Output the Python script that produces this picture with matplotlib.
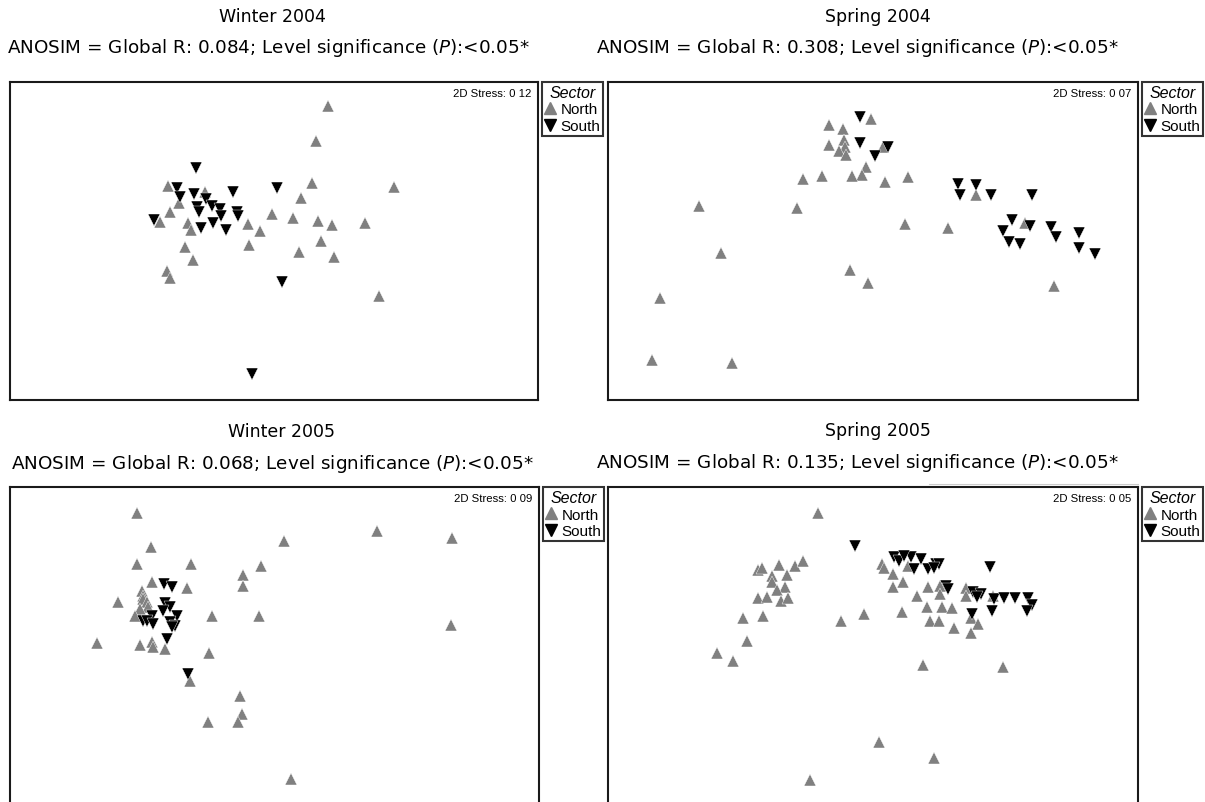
import matplotlib
matplotlib.use("Agg")
import matplotlib.pyplot as plt
from matplotlib.lines import Line2D

# ---- data (nMDS ordination scores, arbitrary units) ----
panel_titles = ["Winter 2004", "Spring 2004", "Winter 2005", "Spring 2005"]
global_r = ["0.084", "0.308", "0.068", "0.135"]
stress = ["0 12", "0 07", "0 09", "0 05"]
sectors = ["North", "South"]

w04_north_x = [318, 306, 302, 384, 291, 158, 169, 160, 150, 178, 181, 195, 238, 250, 262, 283,
               308, 322, 355, 311, 289, 324, 239, 175, 183, 157, 160, 369]
w04_north_y = [294, 259, 217, 213, 202, 214, 197, 188, 178, 177, 170, 208, 176, 169, 186, 182,
               179, 175, 177, 159, 148, 143, 155, 153, 140, 129, 122, 104]
w04_south_x = [186, 167, 170, 184, 196, 223, 267, 187, 189, 202, 210, 211, 227, 228, 144, 191,
               203, 216, 272, 242]
w04_south_y = [232, 212, 203, 206, 201, 208, 212, 193, 188, 194, 191, 184, 188, 184, 180, 172,
               177, 170, 118, 26]

s04_north_x = [220, 234, 262, 220, 235, 236, 230, 237, 257, 253, 243, 274, 276, 299, 194, 213,
               188, 91, 296, 113, 241, 259, 52, 44, 124, 339, 367, 415, 444]
s04_north_y = [275, 271, 281, 255, 260, 253, 249, 245, 233, 225, 224, 253, 218, 223, 221, 224,
               192, 194, 176, 147, 130, 117, 102, 40, 37, 172, 205, 177, 114]
s04_south_x = [251, 251, 266, 279, 349, 351, 367, 382, 422, 402, 394, 399, 410, 420, 441, 446,
               469, 469, 485]
s04_south_y = [283, 257, 244, 253, 216, 205, 215, 205, 205, 180, 169, 158, 156, 174, 173, 163,
               167, 152, 146]

w05_north_x = [127, 141, 127, 181, 142, 177, 233, 233, 251, 273, 108, 132, 133, 133, 137, 138,
               130, 125, 202, 249, 87, 130, 142, 143, 155, 199, 180, 230, 232, 228, 198, 280,
               366, 441, 440]
w05_north_y = [292, 258, 241, 241, 223, 217, 230, 219, 239, 264, 203, 214, 209, 206, 203, 198,
               196, 189, 189, 189, 162, 160, 163, 158, 156, 152, 124, 109, 91, 83, 83, 26,
               274, 267, 180]
w05_south_x = [154, 162, 155, 160, 153, 167, 142, 133, 137, 143, 160, 165, 162, 157, 178]
w05_south_y = [221, 218, 202, 198, 194, 189, 189, 184, 184, 181, 183, 179, 178, 166, 131]

s05_north_x = [209, 149, 153, 170, 186, 194, 163, 178, 163, 176, 168, 149, 158, 172, 179, 134,
               154, 138, 109, 125, 232, 255, 273, 275, 284, 284, 294, 293, 299, 308, 270, 201,
               319, 331, 331, 357, 357, 318, 333, 343, 321, 330, 345, 362, 369, 362, 384, 314,
               394, 325]
s05_north_y = [292, 235, 237, 240, 239, 244, 229, 230, 223, 218, 215, 207, 208, 204, 207, 187,
               189, 164, 152, 144, 184, 191, 241, 237, 231, 218, 223, 193, 239, 209, 63, 25,
               218, 219, 211, 217, 209, 198, 198, 197, 184, 184, 177, 187, 181, 172, 209, 140,
               138, 47]
s05_south_x = [246, 285, 290, 302, 305, 295, 312, 319, 327, 330, 325, 381, 337, 339, 364, 372,
               368, 385, 395, 405, 418, 422, 417, 383, 363]
s05_south_y = [259, 248, 244, 248, 236, 249, 246, 236, 241, 241, 237, 238, 219, 216, 213, 211,
               208, 206, 207, 207, 207, 200, 194, 194, 191]

north_x = [w04_north_x, s04_north_x, w05_north_x, s05_north_x]
north_y = [w04_north_y, s04_north_y, w05_north_y, s05_north_y]
south_x = [w04_south_x, s04_south_x, w05_south_x, s05_south_x]
south_y = [w04_south_y, s04_south_y, w05_south_y, s05_south_y]

# ---- styling ----
W, H = 1205, 803
GREY = "#808080"
TITLE_FONT = ["DejaVu Sans"]
SMALL_FONT = ["Liberation Sans", "DejaVu Sans"]

fig = plt.figure(figsize=(W / 100, H / 100), dpi=100)
fig.patch.set_facecolor("white")

# panel boxes in pixels: (left, top, width, height)
boxes = [(10, 83, 528, 318), (608, 83, 530, 318), (10, 488, 529, 318), (608, 488, 530, 318)]
title_pos = [(272, 17, 268, 48), (878, 17, 857, 48), (282, 432, 272, 464), (878, 431, 857, 463)]

for i in range(4):
    l, t, w, h = boxes[i]
    ax = fig.add_axes([l / W, 1 - (t + h) / H, w / W, h / H])
    ax.set_xlim(0, 528)
    ax.set_ylim(0, 318)
    ax.set_xticks([])
    ax.set_yticks([])
    for sp in ax.spines.values():
        sp.set_linewidth(1.5)
        sp.set_color("#1a1a1a")
    ax.plot(north_x[i], north_y[i], linestyle="none", marker="^", markersize=8.5,
            color=GREY, markeredgecolor="white", markeredgewidth=0.3, zorder=3)
    ax.plot(south_x[i], south_y[i], linestyle="none", marker="v", markersize=8.5,
            color="black", markeredgecolor="white", markeredgewidth=0.3, zorder=4)
    ax.text(0.988, 0.982, "2D Stress: " + stress[i], transform=ax.transAxes,
            ha="right", va="top", fontsize=8.2, family=SMALL_FONT)

    handles = [Line2D([], [], linestyle="none", marker="^", markersize=8.5, color=GREY),
               Line2D([], [], linestyle="none", marker="v", markersize=8.5, color="black")]
    anchor_x = (1142 - 608) / 530 if l > 300 else (542 - 10) / 528
    leg = ax.legend(handles, sectors, title="Sector", loc="upper left",
                    bbox_to_anchor=(anchor_x, 1.0), bbox_transform=ax.transAxes,
                    borderaxespad=0, frameon=True, fancybox=False, edgecolor="black",
                    borderpad=0.2, labelspacing=0.16, handlelength=0.7, handletextpad=0.3,
                    prop={"family": SMALL_FONT, "size": 11},
                    title_fontproperties={"family": SMALL_FONT, "size": 11.5, "style": "italic"})
    leg.get_frame().set_linewidth(1.5)
    leg._legend_box.align = "center"

    tx, ty, ax2, ay2 = title_pos[i]
    fig.text(tx / W, 1 - ty / H, panel_titles[i], ha="center", va="center",
             fontsize=12.5, family=TITLE_FONT)
    fig.text(ax2 / W, 1 - ay2 / H,
             "ANOSIM = Global R: " + global_r[i] + "; Level significance ($\\mathit{P}$):<0.05*",
             ha="center", va="center", fontsize=13.2, family=TITLE_FONT)

# faint rule above the last panel
fig.add_artist(Line2D([929 / W, 1138 / W], [1 - 485 / H, 1 - 485 / H], color="#cccccc", lw=0.8))

fig.savefig("out.png", dpi=100, facecolor="white")
